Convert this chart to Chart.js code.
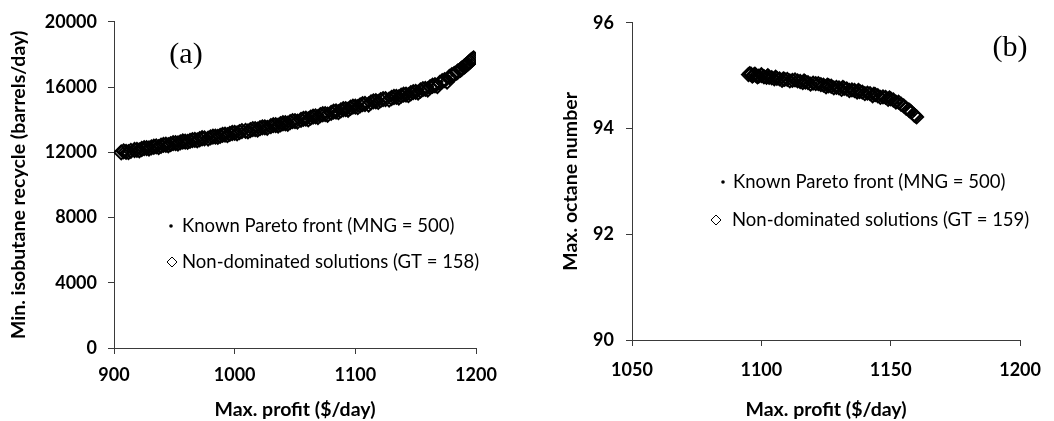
<!DOCTYPE html>
<html>
<head>
<meta charset="utf-8">
<script src="https://cdn.jsdelivr.net/npm/chart.js@4.4.1/dist/chart.umd.min.js"></script>
<style>
  html, body { margin: 0; padding: 0; background: #fff; }
  .panel { position: absolute; top: 0; width: 527px; height: 421px; }
  #wrapA { left: 0; }
  #wrapB { left: 527px; }
</style>
</head>
<body>
<div class="panel" id="wrapA"><canvas id="chartA"></canvas></div>
<div class="panel" id="wrapB"><canvas id="chartB"></canvas></div>
<script>
// ---------- Panel (a): profit vs isobutane recycle ----------
const profitA = [906, 908, 910, 912, 914, 917, 919, 921, 923, 925, 927, 929, 931, 933, 935, 937, 939, 941, 943, 945,
  947, 949, 951, 953, 955, 957, 959, 961, 963, 965, 967, 969, 971, 973, 975, 978, 980, 982, 984, 986,
  988, 990, 992, 994, 996, 998, 1000, 1002, 1004, 1006, 1009, 1011, 1013, 1015, 1017, 1019, 1021, 1023, 1025, 1027,
  1030, 1032, 1034, 1036, 1038, 1040, 1042, 1044, 1046, 1048, 1050, 1052, 1055, 1057, 1059, 1061, 1063, 1065, 1067, 1069,
  1071, 1073, 1075, 1077, 1080, 1082, 1084, 1086, 1088, 1090, 1092, 1094, 1096, 1098, 1100, 1102, 1104, 1106, 1108, 1111,
  1113, 1115, 1117, 1119, 1121, 1123, 1125, 1128, 1130, 1132, 1134, 1136, 1138, 1140, 1142, 1144, 1146, 1148, 1150, 1152,
  1154, 1156, 1158, 1160, 1162, 1164, 1166, 1168, 1170, 1172, 1174, 1176, 1178, 1180, 1182, 1184, 1185, 1187, 1188, 1190,
  1191, 1192, 1193, 1194, 1195, 1196, 1197, 1198];
const recycleA = [11990, 12060, 12030, 12010, 12090, 12140, 12150, 12120, 12200, 12250, 12260, 12230, 12300, 12340, 12360, 12320, 12400, 12450, 12460, 12430,
  12500, 12560, 12560, 12540, 12610, 12660, 12650, 12640, 12700, 12750, 12760, 12730, 12800, 12860, 12850, 12840, 12910, 12960, 12960, 12940,
  13010, 13070, 13080, 13050, 13130, 13180, 13190, 13160, 13240, 13300, 13310, 13280, 13360, 13420, 13420, 13390, 13480, 13530, 13530, 13500,
  13600, 13660, 13660, 13630, 13720, 13780, 13780, 13750, 13850, 13910, 13910, 13880, 13990, 14050, 14060, 14020, 14130, 14190, 14200, 14160,
  14280, 14330, 14340, 14300, 14420, 14490, 14500, 14460, 14570, 14640, 14650, 14610, 14730, 14800, 14800, 14770, 14880, 14950, 14960, 14930,
  15060, 15120, 15130, 15090, 15200, 15260, 15260, 15230, 15330, 15390, 15400, 15360, 15470, 15530, 15540, 15500, 15620, 15690, 15700, 15660,
  15790, 15870, 15890, 15850, 16000, 16080, 16110, 16060, 16250, 16360, 16420, 16330, 16620, 16730, 16800, 16880, 16960, 17050, 17120, 17240,
  17300, 17360, 17420, 17500, 17560, 17640, 17700, 17760];
const frontProfitA = [908, 916, 925, 933, 941, 949, 957, 965, 973, 982, 990, 998, 1006, 1015, 1023, 1032, 1040, 1048, 1057, 1065,
  1073, 1082, 1090, 1098, 1106, 1115, 1123, 1132, 1140, 1148, 1156, 1164, 1172, 1180, 1187, 1192, 1196];
const frontRecycleA = [12010, 12120, 12230, 12330, 12430, 12530, 12630, 12730, 12820, 12930, 13040, 13160, 13270, 13390, 13500, 13630, 13750, 13880, 14030, 14160,
  14310, 14460, 14610, 14770, 14920, 15090, 15230, 15360, 15500, 15660, 15840, 16050, 16330, 16710, 17040, 17360, 17630];
const ticksA_x = [900, 1000, 1100, 1200];
const ticksA_y = [0, 4000, 8000, 12000, 16000, 20000];

// ---------- Panel (b): profit vs octane number ----------
const profitB = [1095, 1095.5, 1096, 1096.5, 1097, 1097.5, 1098, 1098.5, 1099, 1100, 1100, 1101, 1102, 1102.5, 1103, 1104, 1105, 1105.5, 1106, 1107,
  1108, 1108.5, 1109, 1110, 1111, 1112, 1113, 1114, 1115, 1116, 1116.5, 1117, 1118, 1119, 1120, 1121, 1122, 1123, 1124, 1125,
  1125.5, 1126, 1127, 1128, 1129, 1130, 1131, 1131.5, 1132, 1133, 1134, 1135, 1136, 1137, 1137.5, 1138, 1139, 1140, 1141, 1142,
  1143, 1143.5, 1144, 1145, 1146, 1147, 1148, 1149, 1149.5, 1150, 1151, 1152, 1153, 1154, 1155, 1156, 1157, 1157.5, 1158, 1159,
  1159.5, 1160];
const octaneB = [95.02, 95.04, 95.03, 94.99, 95.01, 95.03, 95.00, 94.98, 94.99, 95.00, 95.02, 94.98, 94.97, 95.00, 94.97, 94.96, 94.94, 94.97, 94.95, 94.94,
  94.91, 94.94, 94.93, 94.93, 94.90, 94.91, 94.92, 94.90, 94.89, 94.87, 94.90, 94.88, 94.87, 94.84, 94.86, 94.85, 94.85, 94.83, 94.82, 94.79,
  94.82, 94.81, 94.80, 94.77, 94.78, 94.77, 94.74, 94.78, 94.76, 94.75, 94.72, 94.73, 94.72, 94.69, 94.72, 94.70, 94.69, 94.66, 94.67, 94.66,
  94.62, 94.65, 94.64, 94.62, 94.59, 94.60, 94.59, 94.55, 94.58, 94.56, 94.54, 94.50, 94.50, 94.46, 94.43, 94.38, 94.35, 94.33, 94.31, 94.26,
  94.24, 94.22];
const frontProfitB = [1096, 1099, 1102, 1105, 1108, 1111, 1114, 1117, 1120, 1123, 1126, 1129, 1132, 1135, 1138, 1141, 1144, 1147, 1150, 1153, 1156, 1159];
const frontOctaneB = [95.01, 94.99, 94.97, 94.95, 94.93, 94.91, 94.89, 94.87, 94.85, 94.83, 94.81, 94.78, 94.76, 94.73, 94.70, 94.67, 94.63, 94.59, 94.55, 94.48, 94.38, 94.25];
const ticksB_x = [1050, 1100, 1150, 1200];
const ticksB_y = [90, 92, 94, 96];

const frontLabelA = 'Known Pareto front (MNG = 500)';
const solLabelA = 'Non-dominated solutions (GT = 158)';
const frontLabelB = 'Known Pareto front (MNG = 500)';
const solLabelB = 'Non-dominated solutions (GT = 159)';

const toPoints = (xs, ys) => xs.map((x, i) => ({ x, y: ys[i] }));

const TICK_FONT = { family: 'Lato', size: 18, weight: 'bold' };
const TITLE_FONT = { family: 'Lato', size: 19.5, weight: 'bold' };
const AXIS_COLOR = '#3a3a3a';

// Draws the in-plot legend and the panel letter as canvas text.
const annotate = {
  id: 'annotate',
  afterDatasetsDraw(chart, args, opts) {
    const ctx = chart.ctx;
    ctx.save();
    ctx.textBaseline = 'middle';
    ctx.textAlign = 'left';
    ctx.font = '18.5px Lato';
    opts.entries.forEach((e) => {
      const ds = chart.data.datasets[e.dataset];
      ctx.strokeStyle = '#000';
      ctx.fillStyle = e.fill;
      ctx.lineWidth = e.lineWidth;
      Chart.helpers.drawPoint(ctx, { pointStyle: ds.pointStyle, radius: e.radius, borderWidth: e.lineWidth }, e.mx, e.y);
      ctx.fillStyle = '#000';
      ctx.fillText(ds.label, e.tx, e.y);
    });
    ctx.font = '30px "Liberation Serif"';
    ctx.textAlign = 'center';
    ctx.fillText(opts.tag, opts.tagX, opts.tagY);
    ctx.restore();
  }
};

function makeChart(id, cfg) {
  return new Chart(document.getElementById(id), {
    type: 'scatter',
    data: {
      datasets: [
        {
          label: cfg.frontLabel,
          data: toPoints(cfg.frontX, cfg.frontY),
          pointStyle: 'circle',
          pointRadius: 1.4,
          backgroundColor: '#000',
          borderColor: '#000',
          borderWidth: 0,
          order: 2
        },
        {
          label: cfg.solLabel,
          data: toPoints(cfg.solX, cfg.solY),
          pointStyle: 'rectRot',
          pointRadius: cfg.diamond,
          backgroundColor: 'rgba(255,255,255,0)',
          borderColor: '#000',
          borderWidth: 2,
          order: 1
        }
      ]
    },
    options: {
      responsive: true,
      maintainAspectRatio: false,
      animation: false,
      events: [],
      layout: { padding: cfg.pad },
      plugins: {
        legend: { display: false },
        tooltip: { enabled: false },
        annotate: cfg.annotate
      },
      scales: {
        x: {
          type: 'linear',
          min: cfg.xTicks[0],
          max: cfg.xTicks[cfg.xTicks.length - 1],
          afterBuildTicks: (s) => { s.ticks = cfg.xTicks.map((v) => ({ value: v })); },
          afterFit: (s) => { s.height = cfg.xHeight; },
          grid: { drawOnChartArea: false, drawTicks: true, tickLength: 6, color: AXIS_COLOR },
          border: { color: AXIS_COLOR, width: 1 },
          ticks: { font: TICK_FONT, color: '#000', padding: cfg.xPad, maxRotation: 0, callback: (v) => String(v) },
          title: { display: true, text: 'Max. profit ($/day)', font: TITLE_FONT, color: '#000', padding: { top: 0, bottom: 0 } }
        },
        y: {
          type: 'linear',
          min: cfg.yTicks[0],
          max: cfg.yTicks[cfg.yTicks.length - 1],
          afterBuildTicks: (s) => { s.ticks = cfg.yTicks.map((v) => ({ value: v })); },
          afterFit: (s) => { s.width = cfg.yWidth; },
          grid: { drawOnChartArea: false, drawTicks: true, tickLength: 6, color: AXIS_COLOR },
          border: { color: AXIS_COLOR, width: 1 },
          ticks: { font: TICK_FONT, color: '#000', padding: cfg.yPad, callback: (v) => String(v) },
          title: { display: true, text: cfg.yTitle, font: TITLE_FONT, color: '#000', padding: { top: cfg.yTitlePad, bottom: 0 } }
        }
      }
    },
    plugins: [annotate]
  });
}

makeChart('chartA', {
  frontLabel: frontLabelA, solLabel: solLabelA,
  frontX: frontProfitA, frontY: frontRecycleA,
  solX: profitA, solY: recycleA,
  xTicks: ticksA_x, yTicks: ticksA_y,
  diamond: 7,
  pad: { left: 0, top: 20, right: 51, bottom: 0 },
  xHeight: 73, yWidth: 114, xPad: 10, yPad: 11, yTitlePad: 7,
  yTitle: 'Min. isobutane recycle (barrels/day)',
  annotate: {
    tag: '(a)', tagX: 186, tagY: 55,
    entries: [
      { dataset: 0, mx: 171, tx: 182, y: 226, radius: 1.8, lineWidth: 0, fill: '#000' },
      { dataset: 1, mx: 172, tx: 182, y: 262, radius: 5, lineWidth: 1, fill: 'rgba(0,0,0,0)' }
    ]
  }
});

makeChart('chartB', {
  frontLabel: frontLabelB, solLabel: solLabelB,
  frontX: frontProfitB, frontY: frontOctaneB,
  solX: profitB, solY: octaneB,
  xTicks: ticksB_x, yTicks: ticksB_y,
  diamond: 6.5,
  pad: { left: 0, top: 19, right: 27, bottom: 0 },
  xHeight: 81, yWidth: 105, xPad: 13, yPad: 12, yTitlePad: 32,
  yTitle: 'Max. octane number',
  annotate: {
    tag: '(b)', tagX: 483, tagY: 48,
    entries: [
      { dataset: 0, mx: 196, tx: 206, y: 182, radius: 1.8, lineWidth: 0, fill: '#000' },
      { dataset: 1, mx: 189, tx: 205, y: 220, radius: 5, lineWidth: 1, fill: 'rgba(0,0,0,0)' }
    ]
  }
});
</script>
</body>
</html>
